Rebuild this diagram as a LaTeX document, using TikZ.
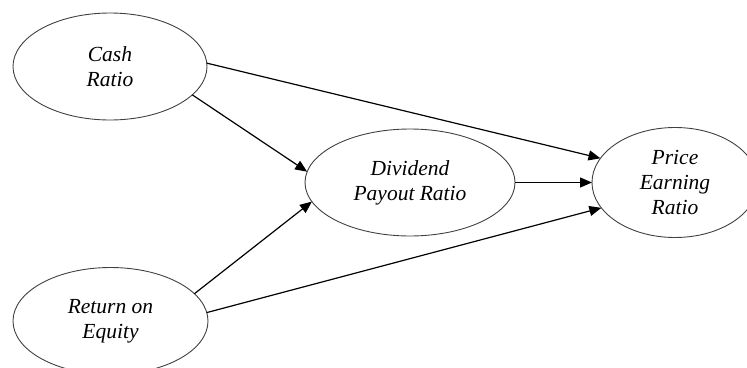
\documentclass[tikz,border=0pt]{standalone}
\usepackage{fontspec}
\setmainfont{Liberation Serif}
\usetikzlibrary{shapes.geometric,arrows.meta}
\begin{document}
\begin{tikzpicture}[x=1pt,y=-1pt,
  var/.style={ellipse,draw=black!75,line width=0.9pt,inner sep=0pt,outer sep=0pt,
    align=center,font=\fontsize{21.5}{25}\selectfont\itshape},
  link/.style={line width=1.2pt,-{Triangle[length=12pt,width=10pt]}}]
\useasboundingbox (0,0) rectangle (747,367);
\node[var,minimum width=194pt,minimum height=107pt] (cash) at (110,66.5) {Cash\\Ratio};
\node[var,minimum width=210pt,minimum height=107pt] (div) at (410,182.5) {Dividend\\Payout Ratio};
\node[var,minimum width=166pt,minimum height=110pt] (pe) at (675,182.5) {Price\\Earning\\Ratio};
\node[var,minimum width=195pt,minimum height=107pt] (roe) at (110.5,321) {Return on\\Equity};
\draw[link] (cash.2) -- (pe.162);
\draw[link] (cash.-19) -- (div.174.7);
\draw[link] (div.0) -- (pe.180);
\draw[link] (roe.18) -- (div.-169.5);
\draw[link] (roe.5) -- (pe.-161.6);
\end{tikzpicture}
\end{document}
